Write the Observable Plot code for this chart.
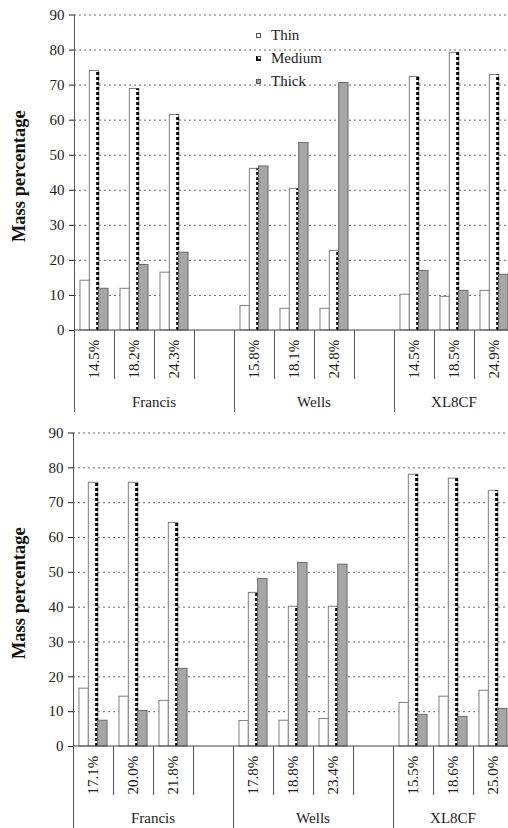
<!DOCTYPE html>
<html>
<head>
<meta charset="utf-8">
<script src="https://cdn.jsdelivr.net/npm/d3@7"></script>
<script src="https://cdn.jsdelivr.net/npm/@observablehq/plot@0.6"></script>
<style>
  body { margin: 0; background: #fff; width: 508px; overflow: hidden; }
  #wrap { position: relative; width: 508px; }
  .panel { width: 508px; overflow: hidden; }
  .panel svg { display: block; }
  .panel svg, .panel svg text { font-family: "Liberation Serif", "Times New Roman", serif !important; }
  #legend { position: absolute; left: 256px; top: 24px; font-family: "Liberation Serif", "Times New Roman", serif; font-size: 15px; color: #222; }
  #legend .item { position: relative; height: 23px; line-height: 23px; padding-left: 15px; white-space: nowrap; }
  #legend .sw { position: absolute; left: 0; top: 9px; width: 5px; height: 5px; box-sizing: border-box; border: 1px solid #555; background: #fff; }
</style>
</head>
<body>
<div id="wrap">
  <div class="panel" id="top"></div>
  <div class="panel" id="bottom"></div>
  <div id="legend"></div>
</div>
<script>
const cultivars = ["Francis", "Wells", "XL8CF"];
const series = ["Thin", "Medium", "Thick"];
const yTicks = [0, 10, 20, 30, 40, 50, 60, 70, 80, 90];

// Top panel
const topMoisture = ["14.5%", "18.2%", "24.3%", "15.8%", "18.1%", "24.8%", "14.5%", "18.5%", "24.9%"];
const topThin   = [14.2, 11.9, 16.5, 7.0, 6.2, 6.2, 10.2, 9.6, 11.3];
const topMedium = [74.0, 68.9, 61.5, 46.1, 40.4, 22.7, 72.3, 79.2, 72.9];
const topThick  = [11.9, 18.7, 22.2, 46.8, 53.5, 70.6, 17.0, 11.3, 15.9];

// Bottom panel
const bottomMoisture = ["17.1%", "20.0%", "21.8%", "17.8%", "18.8%", "23.4%", "15.5%", "18.6%", "25.0%"];
const bottomThin   = [16.6, 14.3, 13.1, 7.3, 7.4, 7.9, 12.5, 14.3, 16.0];
const bottomMedium = [75.7, 75.7, 64.2, 44.1, 40.1, 40.1, 78.0, 76.9, 73.4];
const bottomThick  = [7.4, 10.2, 22.3, 48.1, 52.7, 52.2, 9.1, 8.5, 10.8];

const FONT = "'Liberation Serif', 'Times New Roman', serif";

function buildPanel(moisture, thin, medium, thick, opt) {
  const slots = [];
  cultivars.forEach((c, gi) => {
    for (let k = 0; k < 3; k++) {
      slots.push({key: c + "|" + moisture[gi * 3 + k], label: moisture[gi * 3 + k], cultivar: c, first: k === 0});
    }
    if (gi < cultivars.length - 1) slots.push({key: c + "|", label: "", cultivar: c, first: false});
  });
  const keys = slots.map(s => s.key);
  const rows = moisture.map((m, i) => ({
    key: cultivars[Math.floor(i / 3)] + "|" + m,
    thin: thin[i], medium: medium[i], thick: thick[i]
  }));
  const step = opt.step;
  const bw = 9.35;
  const pad = (step - 3 * bw) / 2;

  const axisMark = (index, scales, values, dims) => {
    const x = scales.x, y = scales.y;
    const y0 = y(0);
    const st = x(keys[1]) - x(keys[0]);
    const g = d3.create("svg:g").attr("fill", "none").attr("font-family", FONT);
    g.append("line").attr("x1", x(keys[0])).attr("x2", dims.width).attr("y1", y0).attr("y2", y0)
      .attr("stroke", "#444").attr("stroke-width", 1);
    slots.forEach((s, i) => {
      const xs = Math.round(x(s.key)) + 0.5;
      const groupStart = i === 0 || slots[i - 1].cultivar !== s.cultivar;
      g.append("line").attr("x1", xs).attr("x2", xs)
        .attr("y1", i === 0 ? y(90) : y0)
        .attr("y2", groupStart ? y0 + 82 : y0 + 49)
        .attr("stroke", "#555").attr("stroke-width", 1);
      if (s.label) {
        const cx = x(s.key) + st / 2;
        g.append("text").attr("transform", `translate(${cx},${y0 + 29}) rotate(-90)`)
          .attr("text-anchor", "middle").attr("dominant-baseline", "central")
          .attr("fill", "#222").attr("font-size", 15).text(s.label);
      }
    });
    cultivars.forEach(c => {
      const gs = slots.filter(s => s.cultivar === c);
      const x1 = x(gs[0].key), x2 = x(gs[gs.length - 1].key) + st;
      g.append("text").attr("x", (x1 + x2) / 2).attr("y", y0 + 71.5)
        .attr("text-anchor", "middle").attr("dominant-baseline", "central")
        .attr("fill", "#222").attr("font-size", 15).text(c);
    });
    g.append("text").attr("transform", `translate(19,${(y(90) + y0) / 2 + 4}) rotate(-90)`)
      .attr("text-anchor", "middle").attr("dominant-baseline", "central")
      .attr("fill", "#111").attr("font-size", 18.5).attr("font-weight", "bold").text("Mass percentage");
    return g.node();
  };

  return Plot.plot({
    width: 508,
    height: opt.height,
    marginLeft: opt.left,
    marginRight: 0,
    marginTop: opt.marginTop,
    marginBottom: opt.marginBottom,
    style: {fontFamily: FONT, fontSize: "15px", color: "#222", background: "#fff", overflow: "hidden"},
    x: {type: "band", domain: keys, range: [opt.left, opt.left + keys.length * step], padding: 0, axis: null},
    y: {domain: [0, 90], ticks: yTicks, tickSize: 5, tickPadding: 5, label: null, line: false},
    marks: [
      Plot.ruleY(yTicks.filter(t => t > 0), {stroke: "#6a6a6a", strokeDasharray: "2,3", strokeWidth: 1}),
      Plot.barY(rows, {x: "key", y: "thin", fill: "#fff", stroke: "#7f7f7f", strokeWidth: 1,
        insetLeft: pad, insetRight: step - pad - bw}),
      Plot.barY(rows, {x: "key", y: "medium", fill: "#fff", stroke: "#7f7f7f", strokeWidth: 1,
        insetLeft: pad + bw, insetRight: pad + bw}),
      Plot.ruleX(rows, {x: "key", y1: 0, y2: "medium", dx: (pad + 2 * bw) - step / 2 - 1.5,
        stroke: "#000", strokeWidth: 3, strokeDasharray: "3,2"}),
      Plot.barY(rows, {x: "key", y: "thick", fill: "#a6a6a6", stroke: "#6a6a6a", strokeWidth: 1,
        insetLeft: pad + 2 * bw, insetRight: pad}),
      axisMark
    ]
  });
}

document.getElementById("top").append(
  buildPanel(topMoisture, topThin, topMedium, topThick,
    {height: 412, marginTop: 14.5, marginBottom: 82, left: 74, step: 40})
);
document.getElementById("bottom").append(
  buildPanel(bottomMoisture, bottomThin, bottomMedium, bottomThick,
    {height: 416, marginTop: 20.5, marginBottom: 82, left: 73, step: 40})
);

const legend = document.getElementById("legend");
series.forEach(s => {
  const item = document.createElement("div");
  item.className = "item";
  const sw = document.createElement("span");
  sw.className = "sw";
  if (s === "Medium") { sw.style.borderLeft = "2px solid #000"; sw.style.borderBottom = "2px solid #000"; }
  if (s === "Thick") { sw.style.background = "#a6a6a6"; }
  item.append(sw, document.createTextNode(s));
  legend.append(item);
});
</script>
</body>
</html>
